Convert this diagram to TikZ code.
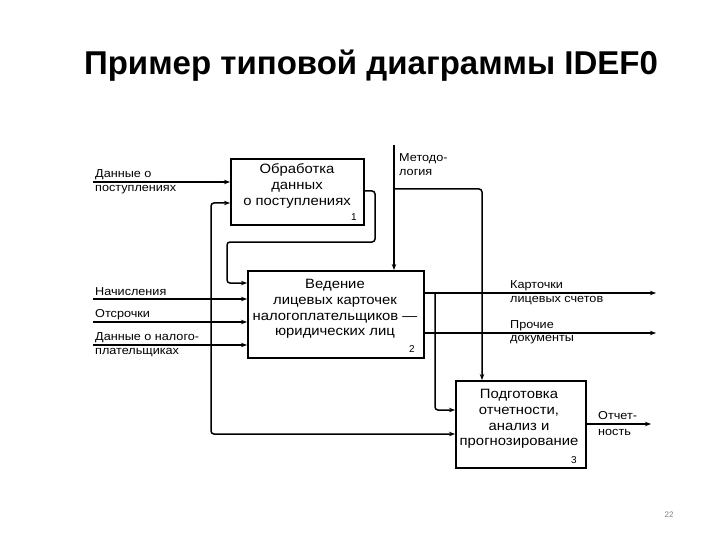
\documentclass[tikz,border=0pt]{standalone}
\usepackage{fontspec}
\setmainfont{Liberation Sans}
\newfontfamily\widefont[FakeStretch=1.1]{Liberation Sans}
\usetikzlibrary{arrows.meta}
\begin{document}
\begin{tikzpicture}[x=1pt,y=-1pt,
 box/.style={draw, line width=1.6pt, inner sep=0pt, anchor=north west},
 flow/.style={line width=1.5pt, rounded corners=3pt, -{Stealth[length=6pt,width=4.5pt]}},
 btxt/.style={align=center, font=\widefont\fontsize{13.5}{15.8}\selectfont, inner sep=0pt},
 lbl/.style={anchor=west, font=\widefont\fontsize{11.5}{13}\selectfont, inner sep=0pt},
 num/.style={font=\fontsize{10}{11}\selectfont, inner sep=0pt}]
\useasboundingbox (0,0) rectangle (720,540);
\node[font=\fontsize{33}{36}\selectfont\bfseries] (title) at (371,66) {Пример типовой диаграммы IDEF0};

% boxes
\node[box, minimum width=133pt, minimum height=66pt] (b1) at (230,158) {};
\node[btxt] (t1) at (297,186) {Обработка\\данных\\о поступлениях};
\node[num] (n1) at (354,217) {1};
\node[box, minimum width=176pt, minimum height=87pt] (b2) at (247,270) {};
\node[btxt] (t2) at (335,309) {Ведение\\лицевых карточек\\налогоплательщиков —\\юридических лиц};
\node[num] (n2) at (412,349) {2};
\node[box, minimum width=130pt, minimum height=87pt] (b3) at (455,380) {};
\node[btxt] (t3) at (519,419) {Подготовка\\отчетности,\\анализ и\\прогнозирование};
\node[num] (n3) at (574,460) {3};

% coordinates
\coordinate (in1) at (93,182);
\coordinate (in2) at (93,299);
\coordinate (in3) at (93,322);
\coordinate (in4) at (93,345);
\coordinate (j1) at (211,345);
\coordinate (m0) at (394,145);
\coordinate (mj) at (394,189);
\coordinate (kj) at (435,293);
\coordinate (out1) at (656,293);
\coordinate (out2) at (656,333);
\coordinate (out3) at (651,424);

% inputs
\draw[flow] (in1) -- (b1.west |- in1);
\draw[flow] (in2) -- (b2.west |- in2);
\draw[flow] (in3) -- (b2.west |- in3);
\draw[flow] (in4) -- (b2.west |- in4);
\draw[flow] (j1) -- (211,203) -- (b1.west |- 0,203);
\draw[flow] (j1) -- (211,434) -- (b3.west |- 0,434);
% feedback 1 -> 2
\draw[flow] (b1.east |- 0,191) -- (375,191) -- (375,242) -- (227,242) -- (227,283) -- (b2.west |- 0,283);
% methodology
\draw[flow] (m0) -- (b2.north -| m0);
\draw[flow] (mj) -- (482,189) -- (b3.north -| 482,0);
% outputs
\draw[flow] (b2.east |- out1) -- (out1);
\draw[flow] (kj) -- (435,410) -- (b3.west |- 0,410);
\draw[flow] (b2.east |- out2) -- (out2);
\draw[flow] (b3.east |- out3) -- (out3);

% labels
\node[lbl] (l1a) at (95,174.5) {Данные о};
\node[lbl] (l1b) at (95,190) {поступлениях};
\node[lbl] (l2) at (95,292) {Начисления};
\node[lbl] (l3) at (95,315) {Отсрочки};
\node[lbl] (l4a) at (95,338) {Данные о налого-};
\node[lbl] (l4b) at (95,353) {плательщиках};
\node[lbl] (lm1) at (399,159) {Методо-};
\node[lbl] (lm2) at (399,172) {логия};
\node[lbl] (lo1a) at (510,286) {Карточки};
\node[lbl] (lo1b) at (510,301) {лицевых счетов};
\node[lbl] (lo2a) at (510,326) {Прочие};
\node[lbl] (lo2b) at (510,340) {документы};
\node[lbl] (lo3a) at (598,416) {Отчет-};
\node[lbl] (lo3b) at (598,432) {ность};
\node[font=\fontsize{8}{9}\selectfont, text=black!50] (pg) at (669,515) {22};
\end{tikzpicture}
\end{document}
